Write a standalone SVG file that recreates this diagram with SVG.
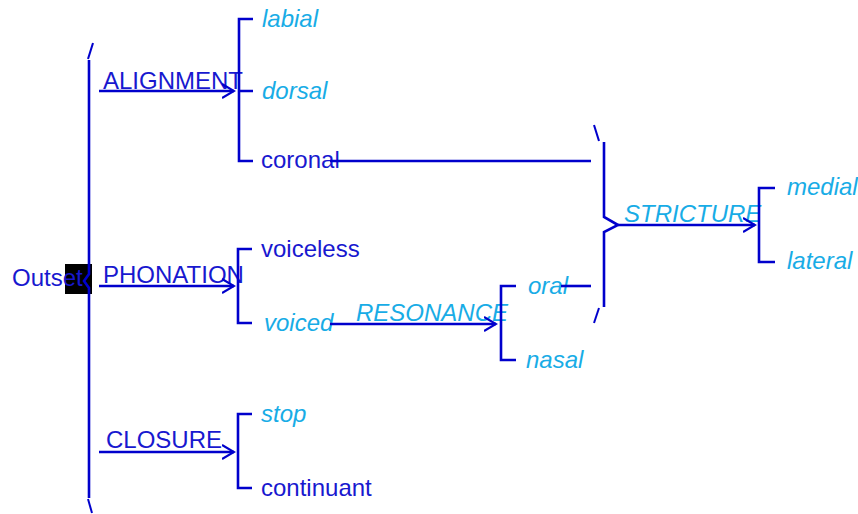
<svg xmlns="http://www.w3.org/2000/svg" width="858" height="514" viewBox="0 0 858 514">
<style>
.ln{fill:none;stroke:#0000cc;stroke-width:2.6;stroke-linecap:butt;stroke-linejoin:miter}
.thin{fill:none;stroke:#0000cc;stroke-width:2}
text{font-family:"Liberation Sans",Arial,sans-serif;font-size:24px}
.d{fill:#1818cf}
.l{fill:#18ace6;font-style:italic}
</style>
<defs>
<marker id="ah" viewBox="0 0 14 16" refX="12" refY="8" markerWidth="14" markerHeight="16" markerUnits="userSpaceOnUse" orient="auto">
<path d="M0,1 L12,8 L0,15" fill="none" stroke="#0000cc" stroke-width="2.2"/>
</marker>
</defs>
<rect x="0" y="0" width="858" height="514" fill="#ffffff"/>
<g id="outset">
<rect x="65" y="264" width="27" height="30" fill="#000000"/>
<text class="d" x="12" y="286">Outset</text>
</g>
<g id="brace-left">
<path class="thin" d="M88,59 L93,43"/>
<path class="ln" d="M89,60 L89,274 L84,281 L89,288 L89,498"/>
<path class="thin" d="M88,499 L92,513"/>
</g>
<g id="alignment">
<text class="d" x="103" y="89">ALIGNMENT</text>
</g>
<g id="phonation">
<text class="d" x="103" y="283">PHONATION</text>
</g>
<g id="closure">
<text class="d" x="106" y="448">CLOSURE</text>
</g>
<g id="align-bracket">
<path class="ln" d="M253,19 L239,19 L239,161 L253,161 M239,91 L253,91"/>
<text class="l" x="262" y="27">labial</text>
<text class="l" x="262" y="99">dorsal</text>
<text class="d" x="261" y="168">coronal</text>
</g>
<g id="phon-bracket">
<path class="ln" d="M252,249 L238,249 L238,323 L252,323"/>
<text class="d" x="261" y="257">voiceless</text>
<text class="l" x="264" y="331">voiced</text>
</g>
<g id="clos-bracket">
<path class="ln" d="M252,414 L238,414 L238,488 L252,488"/>
<text class="l" x="261" y="422">stop</text>
<text class="d" x="261" y="496">continuant</text>
</g>
<g id="resonance">
<text class="l" x="356" y="321">RESONANCE</text>
</g>
<g id="res-bracket">
<path class="ln" d="M516,286 L501,286 L501,360 L516,360"/>
<text class="l" x="528" y="294">oral</text>
<text class="l" x="526" y="368">nasal</text>
</g>
<g id="brace-right">
<path class="thin" d="M594,125 L599,141"/>
<path class="ln" d="M604,142 L604,217 L618,225 L604,232 L604,307"/>
<path class="thin" d="M599,308 L594,323"/>
</g>
<g id="stricture">
<text class="l" x="624" y="222">STRICTURE</text>
</g>
<g id="str-bracket">
<path class="ln" d="M775,188 L759,188 L759,262 L775,262"/>
<text class="l" x="787" y="195">medial</text>
<text class="l" x="787" y="269">lateral</text>
</g>
<g id="connectors">
<path class="ln" d="M99,91 L234,91" marker-end="url(#ah)"/>
<path class="ln" d="M99,286 L234,286" marker-end="url(#ah)"/>
<path class="ln" d="M99,452 L234,452" marker-end="url(#ah)"/>
<path class="ln" d="M330,324 L496,324" marker-end="url(#ah)"/>
<path class="ln" d="M618,225 L755,225" marker-end="url(#ah)"/>
<path class="ln" d="M330,161 L591,161"/>
<path class="ln" d="M561,286 L591,286"/>
</g>
</svg>
